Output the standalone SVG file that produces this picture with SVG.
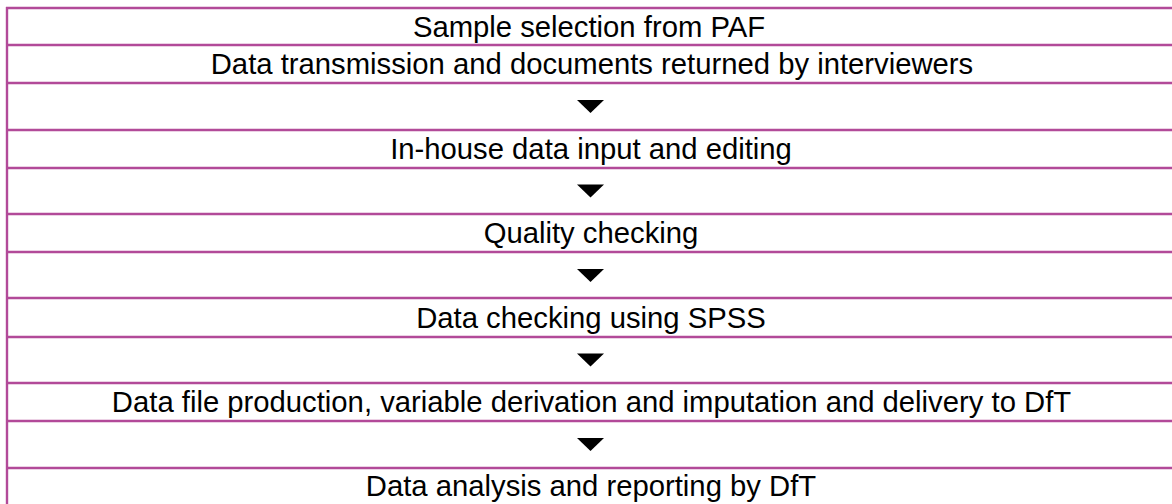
<svg xmlns="http://www.w3.org/2000/svg" width="1172" height="504" viewBox="0 0 1172 504">
  <style>
    .rule { stroke: #B24A99; stroke-width: 2.4; fill: none; }
    .label { font-family: "Liberation Sans", Arial, sans-serif; font-size: 29.25px; fill: #000; text-anchor: middle; }
    .tri { fill: #000; }
  </style>
  <defs>
    <!-- downward pointer, centred on x=0, top at y=0 -->
    <polygon id="down" class="tri" points="-13.5,0 13.5,0 0,13"/>
  </defs>
  <rect width="1172" height="504" fill="#fff"/>

  <!-- table frame: left edge and row rules -->
  <g id="frame">
    <line class="rule" x1="7" y1="7" x2="7" y2="504"/>
    <line class="rule" x1="6" y1="8" x2="1172" y2="8"/>
    <line class="rule" x1="6" y1="45" x2="1172" y2="45"/>
    <line class="rule" x1="6" y1="83" x2="1172" y2="83"/>
    <line class="rule" x1="6" y1="130" x2="1172" y2="130"/>
    <line class="rule" x1="6" y1="168" x2="1172" y2="168"/>
    <line class="rule" x1="6" y1="214" x2="1172" y2="214"/>
    <line class="rule" x1="6" y1="252" x2="1172" y2="252"/>
    <line class="rule" x1="6" y1="298" x2="1172" y2="298"/>
    <line class="rule" x1="6" y1="337" x2="1172" y2="337"/>
    <line class="rule" x1="6" y1="383" x2="1172" y2="383"/>
    <line class="rule" x1="6" y1="421" x2="1172" y2="421"/>
    <line class="rule" x1="6" y1="468" x2="1172" y2="468"/>
  </g>

  <g id="step-sample">
    <text class="label" x="589" y="37">Sample selection from PAF</text>
  </g>
  <g id="step-transmission">
    <text class="label" x="592" y="74">Data transmission and documents returned by interviewers</text>
  </g>
  <g id="step-input">
    <text class="label" x="591" y="159">In-house data input and editing</text>
  </g>
  <g id="step-quality">
    <text class="label" x="591" y="243">Quality checking</text>
  </g>
  <g id="step-spss">
    <text class="label" x="591" y="327.5">Data checking using SPSS</text>
  </g>
  <g id="step-datafile">
    <text class="label" x="591.5" y="412">Data file production, variable derivation and imputation and delivery to DfT</text>
  </g>
  <g id="step-analysis">
    <text class="label" x="591" y="495.5">Data analysis and reporting by DfT</text>
  </g>

  <!-- flow pointers between steps -->
  <g id="connectors">
    <use href="#down" x="590.5" y="100"/>
    <use href="#down" x="590.5" y="184.5"/>
    <use href="#down" x="590.5" y="269"/>
    <use href="#down" x="590.5" y="353.5"/>
    <use href="#down" x="590.5" y="438"/>
  </g>
</svg>
